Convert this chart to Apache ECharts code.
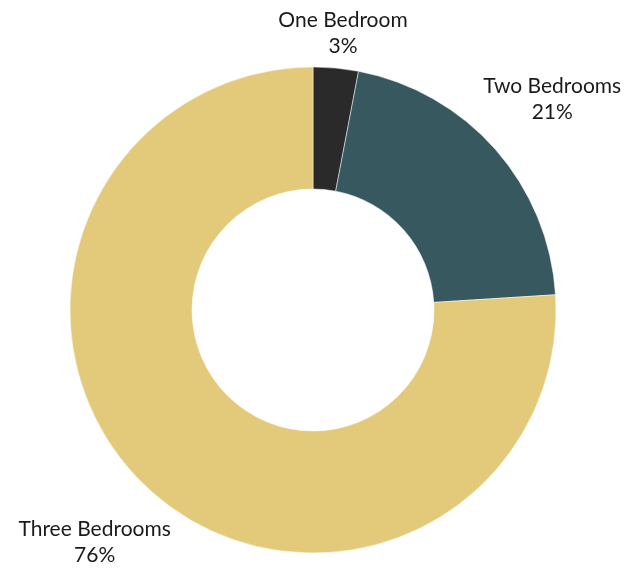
<!DOCTYPE html>
<html>
<head>
<meta charset="utf-8">
<script src="https://cdn.jsdelivr.net/npm/echarts@6/dist/echarts.min.js"></script>
<style>
html,body{margin:0;padding:0;background:#fff;}
#chart{width:628px;height:570px;}
</style>
</head>
<body>
<div id="chart"></div>
<script>
const categories = ['One Bedroom', 'Two Bedrooms', 'Three Bedrooms'];
const values = [3, 21, 76];
const colors = ['#2a2a2a', '#36585e', '#e3c97a'];

const chart = echarts.init(document.getElementById('chart'), null, {renderer: 'canvas'});
chart.setOption({
  animation: false,
  backgroundColor: '#ffffff',
  series: [{
    type: 'pie',
    center: [313, 310],
    radius: [121, 243],
    startAngle: 90,
    clockwise: true,
    avoidLabelOverlap: false,
    data: categories.map((c, i) => ({name: c, value: values[i], itemStyle: {color: colors[i]}})),
    itemStyle: {borderColor: '#ffffff', borderWidth: 0.5},
    label: {
      show: true,
      position: 'outside',
      formatter: p => p.name + '\n' + Math.round(p.percent) + '%',
      fontFamily: 'Lato',
      fontSize: 21,
      lineHeight: 26,
      color: '#1a1a1a',
      align: 'center',
      distanceToLabelLine: 0
    },
    labelLine: {show: true, length: 76, length2: 0, lineStyle: {opacity: 0}},
    labelLayout: function (p) {
      const pts = p.labelLinePoints;
      if (!pts) return {};
      const pt = pts[pts.length - 1];
      const halfH = p.labelRect.height / 2;
      return {x: pt[0], y: Math.max(pt[1], halfH + 7), align: 'center', verticalAlign: 'middle'};
    }
  }]
});
</script>
</body>
</html>
